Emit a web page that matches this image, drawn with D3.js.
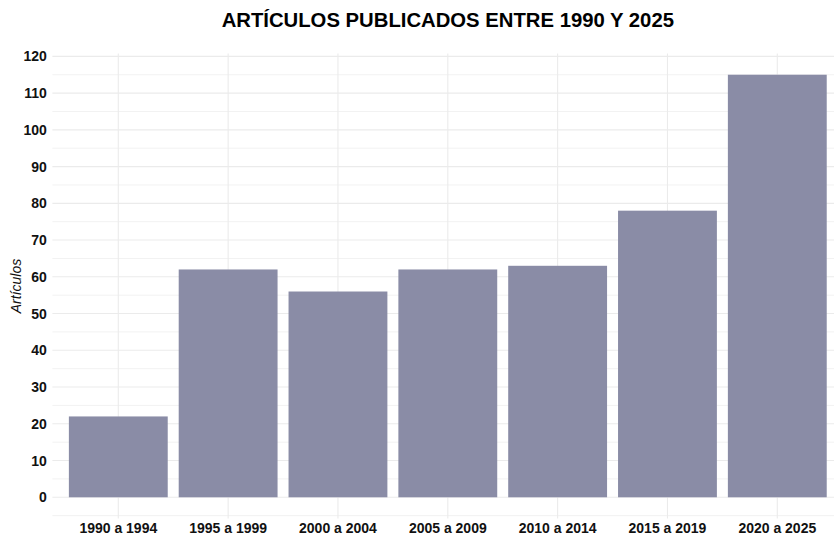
<!DOCTYPE html>
<html>
<head>
<meta charset="utf-8">
<script src="https://cdn.jsdelivr.net/npm/d3@7"></script>
<style>
  body { margin: 0; background: #fff; }
  text { font-family: "Liberation Sans", Arial, sans-serif; }
</style>
</head>
<body>
<div id="chart"></div>
<script>

var periods = ["1990 a 1994", "1995 a 1999", "2000 a 2004", "2005 a 2009", "2010 a 2014", "2015 a 2019", "2020 a 2025"];
var articles = [22, 62, 56, 62, 63, 78, 115];
var yTicks = [0, 10, 20, 30, 40, 50, 60, 70, 80, 90, 100, 110, 120];
var yMinor = [-5, 5, 15, 25, 35, 45, 55, 65, 75, 85, 95, 105, 115];

var width = 834, height = 539;
var panelLeft = 52.4, panelRight = 843.2, panelTop = 53.6, panelBottom = 518.4;

var svg = d3.select("#chart").append("svg")
	.attr("width", width)
	.attr("height", height);

// ggplot-like expansion of the value axis
var yMax = d3.max(articles);
var y = d3.scaleLinear()
	.domain([-yMax * 0.05, yMax * 1.05])
	.range([panelBottom, panelTop]);

var x = d3.scaleBand()
	.domain(periods)
	.range([panelLeft, panelRight])
	.paddingInner(0.1)
	.paddingOuter(0.15);

var grid = svg.append("g").attr("class", "grid");

// minor horizontal lines
grid.selectAll("line.minor")
	.data(yMinor)
	.enter()
	.append("line")
	.attr("class", "minor")
	.attr("x1", panelLeft).attr("x2", width)
	.attr("y1", function(d) {return y(d);})
	.attr("y2", function(d) {return y(d);})
	.attr("stroke", "#f2f2f2")
	.attr("stroke-width", 1);

// major horizontal lines
grid.selectAll("line.major")
	.data(yTicks)
	.enter()
	.append("line")
	.attr("class", "major")
	.attr("x1", panelLeft).attr("x2", width)
	.attr("y1", function(d) {return y(d);})
	.attr("y2", function(d) {return y(d);})
	.attr("stroke", "#ebebeb")
	.attr("stroke-width", 1.1);

// vertical lines at each category
grid.selectAll("line.vert")
	.data(periods)
	.enter()
	.append("line")
	.attr("class", "vert")
	.attr("x1", function(d) {return x(d) + x.bandwidth() / 2;})
	.attr("x2", function(d) {return x(d) + x.bandwidth() / 2;})
	.attr("y1", panelTop).attr("y2", panelBottom)
	.attr("stroke", "#ebebeb")
	.attr("stroke-width", 1.1);

// bars
svg.append("g").selectAll("rect")
	.data(periods)
	.enter()
	.append("rect")
	.attr("x", function(d) {return x(d);})
	.attr("width", x.bandwidth())
	.attr("y", function(d, i) {return y(articles[i]);})
	.attr("height", function(d, i) {return y(0) - y(articles[i]);})
	.attr("fill", "#8a8ca6");

// y axis labels
var yAxis = svg.append("g")
	.attr("transform", "translate(" + (panelLeft - 5.5) + ",0)")
	.call(d3.axisLeft(y).tickValues(yTicks).tickSize(0).tickPadding(0));
yAxis.select(".domain").remove();
yAxis.selectAll("text")
	.attr("font-family", "'Liberation Sans', Arial, sans-serif")
	.attr("font-size", "14px")
	.attr("font-weight", "bold")
	.attr("fill", "#111");

// x axis labels
var xAxis = svg.append("g")
	.attr("transform", "translate(0," + (panelBottom + 4.5) + ")")
	.call(d3.axisBottom(x).tickSize(0).tickPadding(0));
xAxis.select(".domain").remove();
xAxis.selectAll("text")
	.attr("font-family", "'Liberation Sans', Arial, sans-serif")
	.attr("font-size", "14px")
	.attr("font-weight", "bold")
	.attr("fill", "#111");

// axis title
svg.append("text")
	.attr("transform", "translate(21," + ((panelTop + panelBottom) / 2) + ") rotate(-90)")
	.attr("text-anchor", "middle")
	.attr("font-size", "14px")
	.attr("font-style", "italic")
	.attr("fill", "#111")
	.text("Artículos");

// title
svg.append("text")
	.attr("x", (panelLeft + panelRight) / 2)
	.attr("y", 26.5)
	.attr("text-anchor", "middle")
	.attr("font-size", "20.3px")
	.attr("font-weight", "bold")
	.attr("fill", "#000")
	.text("ARTÍCULOS PUBLICADOS ENTRE 1990 Y 2025");

</script>
</body>
</html>
